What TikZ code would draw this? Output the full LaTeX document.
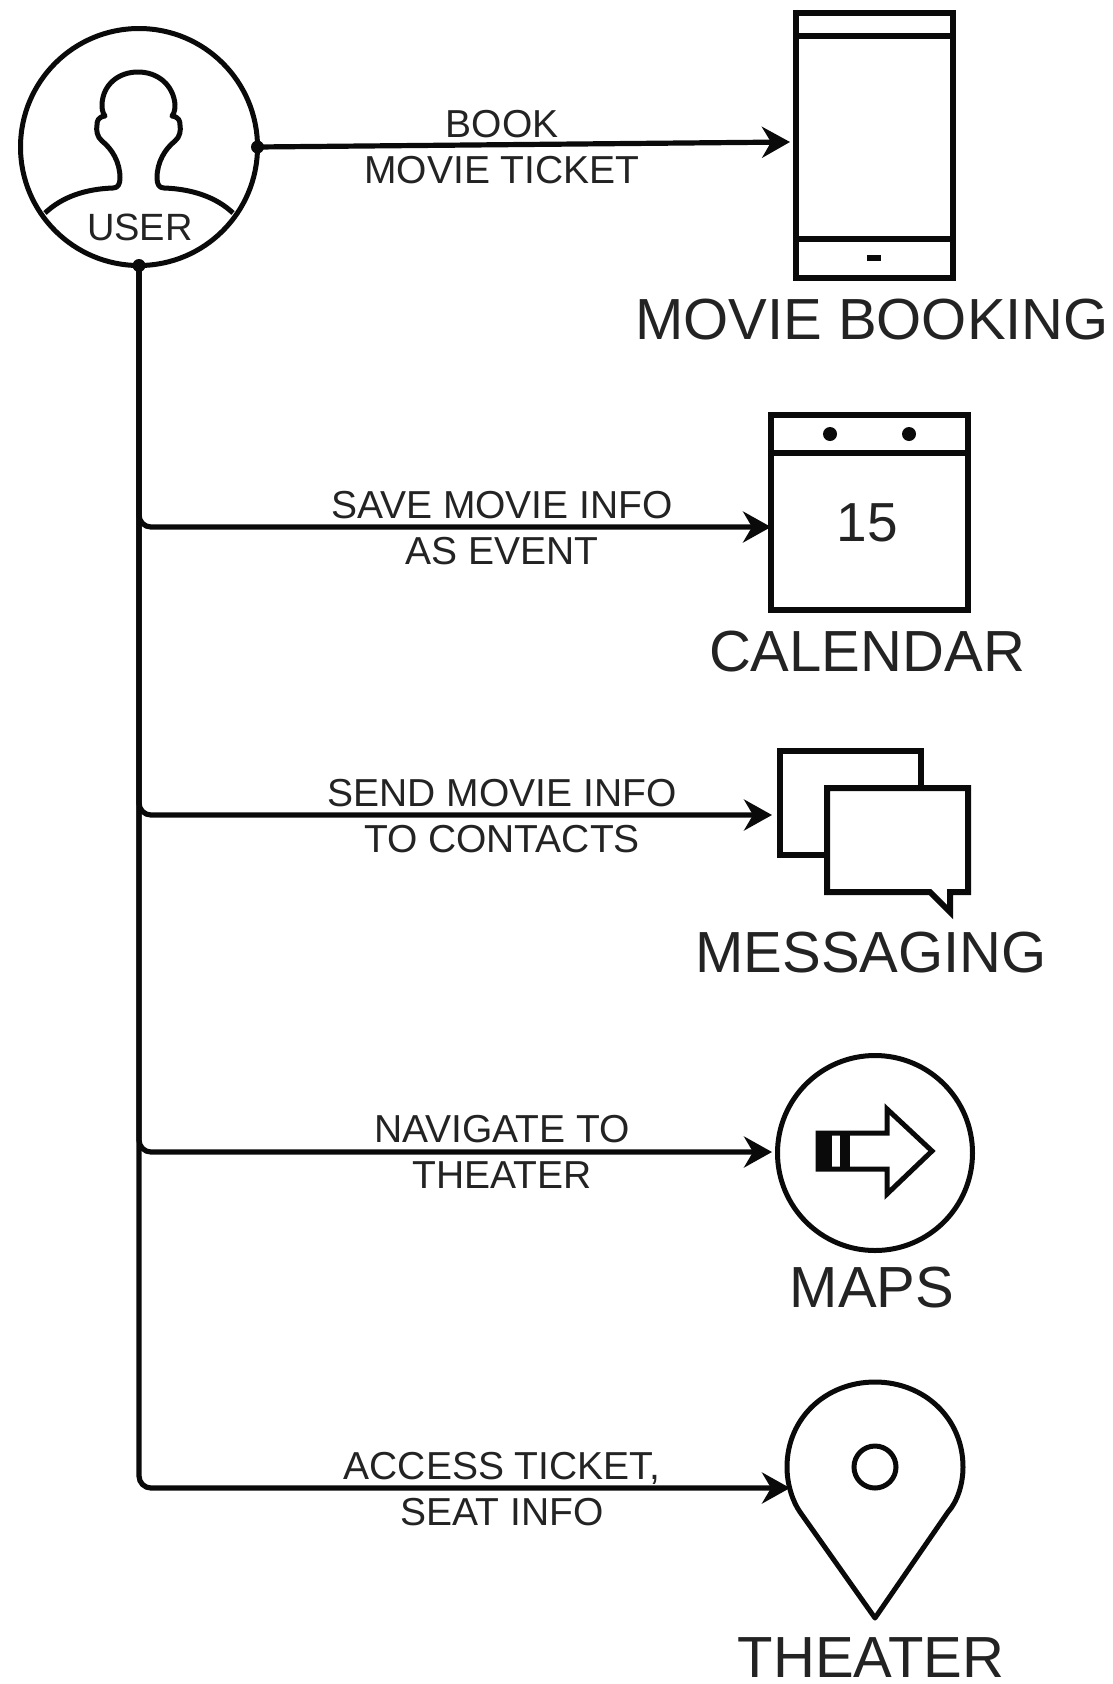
\documentclass[tikz,border=0pt]{standalone}
\usepackage{fontspec}
\setmainfont{Liberation Sans}
\usepackage{xcolor}
\usetikzlibrary{arrows.meta, shapes.geometric}
\definecolor{inkline}{RGB}{10,10,10}
\definecolor{inktext}{RGB}{35,35,35}
\tikzset{
  arr/.style={-{Stealth[length=28pt, width=31pt, inset=9pt]}, line width=5.2pt,
              color=inkline, rounded corners=12pt},
  flowtext/.style={align=center, text=inktext, inner sep=0pt,
                   font=\fontsize{39}{46}\selectfont},
  apptext/.style={text=inktext, inner sep=0pt, font=\fontsize{58}{62}\selectfont},
  boxicon/.style={rectangle, draw=inkline, line width=6pt, inner sep=0pt, outer sep=0pt},
  roundicon/.style={circle, draw=inkline, line width=5pt, inner sep=0pt, outer sep=0pt},
  iconline/.style={draw=inkline, line width=6pt},
  thinline/.style={draw=inkline, line width=5pt, line join=round},
  dotmark/.style={circle, fill=inkline, inner sep=0pt, minimum size=13pt},
}
\begin{document}
\begin{tikzpicture}[x=1pt, y=-1pt]
  \useasboundingbox (0,0) rectangle (1113,1684);

  % user
  \node[roundicon, minimum size=237pt] (user) at (139,147) {};
  \draw[thinline] (45,213) .. controls (62,197) and (85,189) .. (113,188)
    .. controls (118,188) and (120,184) .. (120,178)
    .. controls (120,162) and (112,149) .. (102,141)
    .. controls (97,137) and (96,130) .. (97,125)
    .. controls (97,121) and (98,117) .. (105,116)
    .. controls (102,112) and (102,108) .. (102,104)
    .. controls (103,85) and (118,72) .. (138,72)
    .. controls (158,72) and (173,85) .. (175,104)
    .. controls (175,108) and (175,112) .. (172,116)
    .. controls (179,117) and (180,121) .. (180,125)
    .. controls (181,130) and (180,137) .. (175,141)
    .. controls (165,149) and (157,162) .. (157,178)
    .. controls (157,184) and (159,188) .. (164,188)
    .. controls (192,189) and (216,197) .. (233,213);
  \node[flowtext, font=\fontsize{38}{46}\selectfont] (userlabel) at (140,227) {USER};

  % phone
  \node[boxicon, minimum width=157pt, minimum height=265pt] (phone) at (874.5,145.5) {};
  \draw[iconline] (phone.west |- 0,36) -- (phone.east |- 0,36);
  \draw[iconline] (phone.west |- 0,239) -- (phone.east |- 0,239);
  \draw[iconline] (867,258) -- (881,258);
  \node[apptext] (phonelabel) at (872,320) {MOVIE BOOKING};
  \coordinate (phonein) at (790,142);

  % calendar
  \node[boxicon, minimum width=197pt, minimum height=195pt] (calendar) at (869.5,512.5) {};
  \draw[iconline] (calendar.west |- 0,453) -- (calendar.east |- 0,453);
  \fill[inkline] (830,434) circle (7);
  \fill[inkline] (909,434) circle (7);
  \node[apptext, font=\fontsize{55}{60}\selectfont] (calendarday) at (867,523) {15};
  \node[apptext] (calendarlabel) at (867,652) {CALENDAR};
  \coordinate (calendarin) at (771,527);

  % messaging
  \node[boxicon, minimum width=141pt, minimum height=104pt] (chatback) at (850.5,803) {};
  \draw[iconline, fill=white, line join=miter] (827,788) -- (968,788) -- (968,892) -- (950,892)
    -- (950,912) -- (930,892) -- (827,892) -- cycle;
  \node[apptext] (chatlabel) at (871,953) {MESSAGING};
  \coordinate (chatin) at (772,815);

  % maps
  \node[roundicon, minimum size=195pt] (maps) at (875,1153) {};
  \draw[thinline, line join=miter] (818,1133) -- (887,1133) -- (887,1109) -- (932,1151)
    -- (887,1194) -- (887,1169) -- (818,1169) -- cycle;
  \fill[inkline] (818,1133) rectangle (832,1169);
  \fill[inkline] (840,1133) rectangle (850,1169);
  \node[apptext] (mapslabel) at (872,1288) {MAPS};
  \coordinate (mapsin) at (772,1152);

  % theater
  \draw[thinline] (875,1618) -- (800,1512) .. controls (793,1502) and (787,1485) .. (787,1467)
    .. controls (787,1418) and (826,1382) .. (875,1382)
    .. controls (924,1382) and (963,1418) .. (963,1467)
    .. controls (963,1485) and (957,1502) .. (948,1512) -- cycle;
  \node[roundicon, minimum size=42pt] (pinhole) at (875,1467) {};
  \node[apptext] (theaterlabel) at (871,1658) {THEATER};
  \coordinate (theaterin) at (790,1488);

  % connectors
  \draw[arr] (user.east) -- (phonein);
  \foreach \target in {calendarin, chatin, mapsin, theaterin}
    \draw[arr] (user.south) |- (\target);
  \node[dotmark] (eastdot) at (user.east) {};
  \node[dotmark] (southdot) at (user.south) {};

  \node[flowtext] (booklabel) at (502,147) {BOOK\\MOVIE TICKET};
  \node[flowtext] (savelabel) at (502,528) {SAVE MOVIE INFO\\AS EVENT};
  \node[flowtext] (sendlabel) at (502,816) {SEND MOVIE INFO\\TO CONTACTS};
  \node[flowtext] (navlabel) at (502,1152) {NAVIGATE TO\\THEATER};
  \node[flowtext] (accesslabel) at (502,1489) {ACCESS TICKET,\\SEAT INFO};
\end{tikzpicture}
\end{document}
